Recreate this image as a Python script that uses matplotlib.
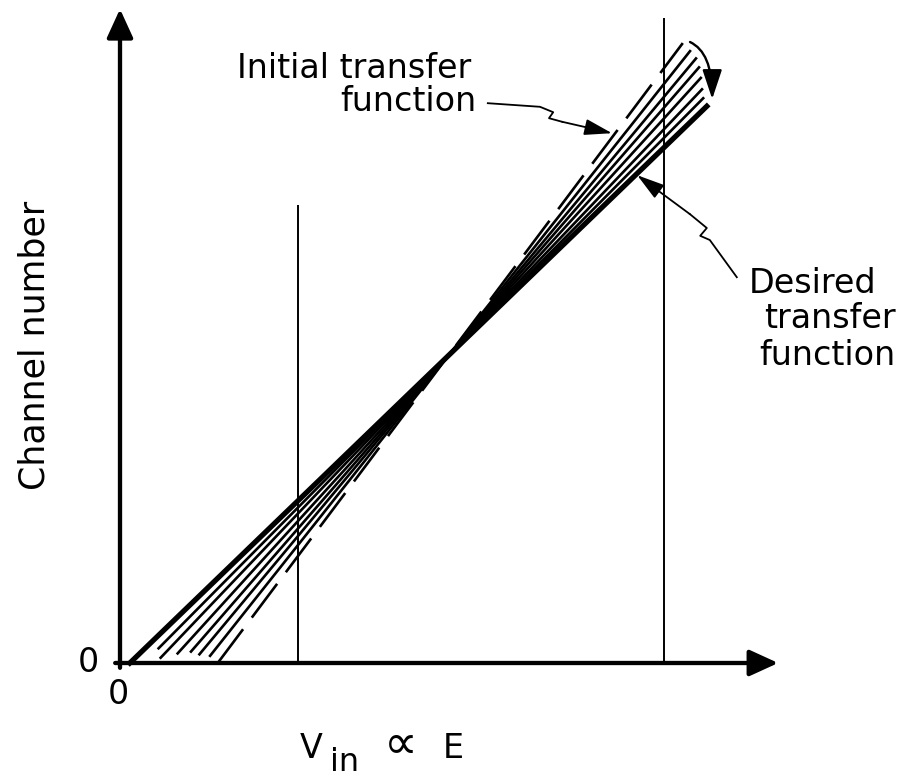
import numpy as np
import matplotlib
matplotlib.use("Agg")
import matplotlib.pyplot as plt
from matplotlib.patches import FancyArrowPatch

# transfer functions (channel number vs V_in), all turning about one pivot point
pivot = (5.47, 5.12)
gains = [1.333, 1.26, 1.20, 1.15, 1.10, 1.05, 1.01, 0.965]   # initial ... desired
low_y = [0.0, 0.12, 0.145, 0.19, 0.16, 0.088, 0.245, 0.0]
high_x = [9.38, 9.5, 9.6, 9.65, 9.68, 9.7, 9.72, 9.78]

# window limits (vertical lines)
window_x = [2.97, 9.07]
window_top = [7.63, 10.75]

axis_max = (10.97, 10.9)

fig = plt.figure(figsize=(9.01, 7.82), dpi=100)
ax = fig.add_axes([0, 0, 1, 1])
ax.set_xlim(-2.0, 781 / 60)
ax.set_ylim(-119 / 60, 663 / 60)
ax.axis("off")

# axes with arrow heads
for start, end in [((0, -0.08), (0, axis_max[1])), ((-0.08, 0), (axis_max[0], 0))]:
    ax.add_patch(FancyArrowPatch(start, end, arrowstyle="-|>,head_length=1.75,head_width=0.8",
                                 mutation_scale=10, lw=3.1, color="black",
                                 shrinkA=0, shrinkB=0))

for x, top in zip(window_x, window_top):
    ax.plot([x, x], [0, top], color="black", lw=1.4, solid_capstyle="butt")

px, py = pivot
for i, (g, y0, x1) in enumerate(zip(gains, low_y, high_x)):
    x0 = px + (y0 - py) / g
    xs = np.array([x0, x1])
    ys = py + g * (xs - px)
    if i == 0:
        ax.plot(xs, ys, color="black", lw=1.9, ls=(0, (16, 5.5)))
    elif i == len(gains) - 1:
        ax.plot(xs, ys, color="black", lw=3.8)
    else:
        ax.plot(xs, ys, color="black", lw=1.9)

# rotation arrow at the top right
ax.add_patch(FancyArrowPatch((9.5, 10.35), (9.87, 9.4),
                             connectionstyle="angle3,angleA=-25,angleB=90",
                             arrowstyle="-|>,head_length=1.8,head_width=0.6",
                             mutation_scale=10, lw=1.7, color="black",
                             shrinkA=0, shrinkB=0))

fs = 24
ax.text(1.95, 9.75, "Initial transfer", fontsize=fs, ha="left", va="baseline")
ax.text(3.67, 9.2, "function", fontsize=fs, ha="left", va="baseline")
lead_x = [6.13, 7.0, 7.22, 7.15, 7.37]
lead_y = [9.33, 9.27, 9.18, 9.08, 9.02]
ax.plot(lead_x, lead_y, color="black", lw=1.3)
ax.annotate("", xy=(8.2, 8.83), xytext=(lead_x[-1], lead_y[-1]),
            arrowprops=dict(arrowstyle="-|>,head_length=1.7,head_width=0.5",
                            mutation_scale=10, lw=1.3, color="black", shrinkA=0, shrinkB=0))

ax.text(10.48, 6.17, "Desired", fontsize=fs, ha="left", va="baseline")
ax.text(10.74, 5.58, "transfer", fontsize=fs, ha="left", va="baseline")
ax.text(10.66, 4.97, "function", fontsize=fs, ha="left", va="baseline")
lead2_x = [10.28, 9.83, 9.67, 9.78, 9.5]
lead2_y = [6.43, 7.05, 7.12, 7.25, 7.48]
ax.plot(lead2_x, lead2_y, color="black", lw=1.3)
ax.annotate("", xy=(8.62, 8.13), xytext=(lead2_x[-1], lead2_y[-1]),
            arrowprops=dict(arrowstyle="-|>,head_length=1.7,head_width=0.5",
                            mutation_scale=10, lw=1.3, color="black", shrinkA=0, shrinkB=0))

ax.text(-1.43, 5.3, "Channel number", fontsize=fs + 1, rotation=90, ha="center", va="center")
ax.text(-0.53, 0, "0", fontsize=fs, ha="center", va="center")
ax.text(-0.03, -0.52, "0", fontsize=fs, ha="center", va="center")
ax.text(3.0, -1.58, "V", fontsize=fs, ha="left", va="baseline")
ax.text(3.5, -1.8, "in", fontsize=fs - 1, ha="left", va="baseline")
ax.text(4.68, -1.38, "\u221d", fontsize=34, ha="center", va="center")
ax.text(5.38, -1.58, "E", fontsize=fs, ha="left", va="baseline")

fig.savefig("out.png", dpi=100)
